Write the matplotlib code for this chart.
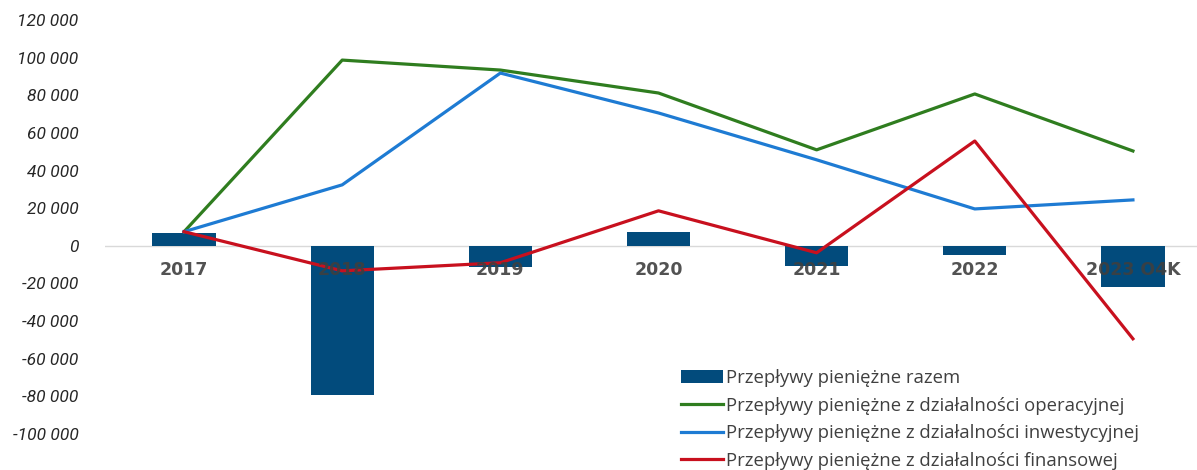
import matplotlib
matplotlib.use('Agg')
from matplotlib import pyplot as plt
from matplotlib.patches import Patch
from matplotlib.lines import Line2D
import numpy as np

years = ['2017', '2018', '2019', '2020', '2021', '2022', '2023 O4K']
razem = [7000, -79500, -11000, 7500, -10500, -5000, -22000]
operacyjna = [7500, 98700, 93400, 81200, 51000, 80700, 50400]
inwestycyjna = [7500, 32400, 91800, 70600, 45700, 19600, 24400]
finansowa = [7500, -13300, -9000, 18600, -3700, 55700, -49400]
yticks = list(range(-100000, 120001, 20000))

labels = ['Przepływy pieniężne razem',
          'Przepływy pieniężne z działalności operacyjnej',
          'Przepływy pieniężne z działalności inwestycyjnej',
          'Przepływy pieniężne z działalności finansowej']
colBar = '#024b7c'
colGreen = '#2f7d1f'
colBlue = '#1e7bd3'
colRed = '#c8101e'

W, H = 1197, 470
fig = plt.figure(figsize=(W/100, H/100), dpi=100)
# axes: x from 105px to 1212px (7 slots of 158px), y from 20px to 434px
ax = fig.add_axes([105/W, 1-434/H, 1107/W, 414/H])
ax.set_xlim(-0.5, 6.5)
ax.set_ylim(-100000, 120000)

x = np.arange(len(years))
ax.bar(x, razem, width=0.4, color=colBar, zorder=2)
ax.plot(x, operacyjna, color=colGreen, lw=2.3, zorder=3)
ax.plot(x, inwestycyjna, color=colBlue, lw=2.3, zorder=3)
ax.plot(x, finansowa, color=colRed, lw=2.3, zorder=4)
ax.axhline(0, color='#d9d9d9', lw=1, zorder=1)

for s in ax.spines.values():
    s.set_visible(False)
ax.tick_params(length=0)
ylabs = ['{:,}'.format(v).replace(',', ' ') for v in yticks]
ax.set_yticks(yticks, labels=ylabs, fontfamily='Roboto', fontstyle='italic',
              fontsize=12.5, color='#262626')
ax.tick_params(axis='y', pad=19)
ax.set_xticks([])
for i, lab in enumerate(years):
    ax.text(i, -13000, lab, ha='center', va='center', fontsize=12.5,
            fontweight='bold', color='#3f3f3f', alpha=0.9, zorder=5,
            family='DejaVu Sans')

handles = [Patch(facecolor=colBar),
           Line2D([0], [0], color=colGreen, lw=2.3),
           Line2D([0], [0], color=colBlue, lw=2.3),
           Line2D([0], [0], color=colRed, lw=2.3)]
leg = fig.legend(handles, labels, loc='lower left', bbox_to_anchor=(664/W, -0.035),
                 frameon=False, handlelength=2.3, handletextpad=0.15,
                 labelspacing=0.52, prop={'family': 'Open Sans', 'size': 13.3})
for t in leg.get_texts():
    t.set_color('#404040')

fig.savefig('out.png', dpi=100)
